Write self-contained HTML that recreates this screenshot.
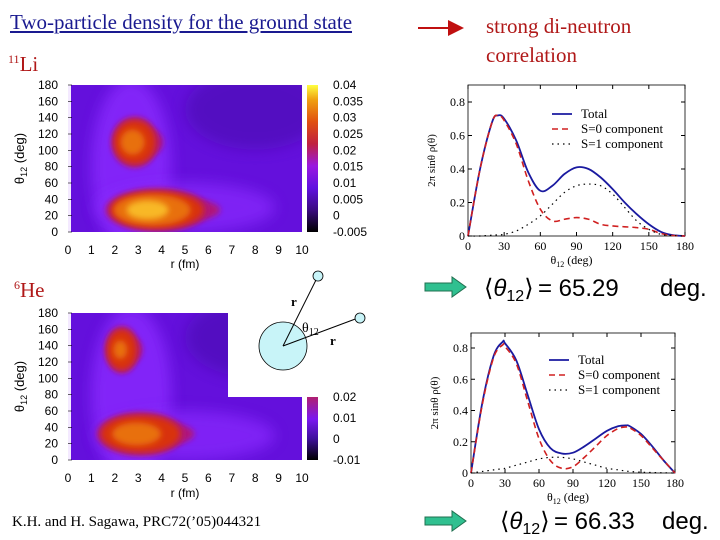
<!DOCTYPE html>
<html><head><meta charset="utf-8"><style>
body{margin:0;background:#fff;width:720px;height:540px;overflow:hidden;position:relative;font-family:"Liberation Serif",serif}
.t{position:absolute;white-space:nowrap}
</style></head><body>
<div class="t" style="left:10px;top:10px;font-size:21px;color:#1a1a90;text-decoration:underline">Two-particle density for the ground state</div>
<div class="t" style="left:486px;top:12px;font-size:21px;color:#b01818;line-height:29px">strong di-neutron<br>correlation</div>
<div class="t" style="left:8px;top:52px;font-size:21px;color:#b01818"><sup style="font-size:12px">11</sup>Li</div>
<div class="t" style="left:14px;top:278px;font-size:21px;color:#b01818"><sup style="font-size:12px">6</sup>He</div>
<div class="t" style="left:12px;top:514px;font-size:15px;color:#000">K.H. and H. Sagawa, PRC72(’05)044321</div>
<svg id="s" width="720" height="540" style="position:absolute;left:0;top:0" font-family="Liberation Sans, sans-serif">
<defs>
<filter id="b1" x="-50%" y="-50%" width="200%" height="200%"><feGaussianBlur stdDeviation="7"/></filter>
<filter id="b2" x="-50%" y="-50%" width="200%" height="200%"><feGaussianBlur stdDeviation="3"/></filter>
<linearGradient id="cb" x1="0" y1="1" x2="0" y2="0">
<stop offset="0" stop-color="#000"/><stop offset="0.15" stop-color="#3a0a80"/><stop offset="0.3" stop-color="#6010e0"/><stop offset="0.45" stop-color="#9a18e0"/><stop offset="0.6" stop-color="#c02040"/><stop offset="0.75" stop-color="#e05010"/><stop offset="0.9" stop-color="#f0a010"/><stop offset="1" stop-color="#ffff40"/></linearGradient>
<linearGradient id="cb2" x1="0" y1="1" x2="0" y2="0">
<stop offset="0" stop-color="#000"/><stop offset="0.35" stop-color="#4010a0"/><stop offset="0.65" stop-color="#7a18f0"/><stop offset="1" stop-color="#b02070"/></linearGradient>
<clipPath id="c1"><rect x="68" y="85" width="234" height="147"/></clipPath>
<clipPath id="c2"><path d="M68 313H228V397H302V460H68Z"/></clipPath>
<marker id="ar" markerWidth="8" markerHeight="8" refX="7" refY="4" orient="auto"><path d="M0 0L8 4L0 8Z" fill="#c01010"/></marker>
</defs>
<line x1="418" y1="28" x2="462" y2="28" stroke="#c01010" stroke-width="2" marker-end="url(#ar)"/>
<g id="hm"></g>
<g id="lc"></g>
<g>
<circle cx="283" cy="346" r="24" fill="#c8f4f8" stroke="#000" stroke-width="0.8"/>
<line x1="283" y1="346" x2="318" y2="276" stroke="#000"/><line x1="283" y1="346" x2="358" y2="318" stroke="#000"/>
<circle cx="318" cy="276" r="5" fill="#c8f4f8" stroke="#000" stroke-width="0.8"/><circle cx="360" cy="318" r="5" fill="#c8f4f8" stroke="#000" stroke-width="0.8"/>
<text x="291" y="306" font-family="Liberation Serif,serif" font-weight="bold" font-size="13">r</text>
<text x="330" y="345" font-family="Liberation Serif,serif" font-weight="bold" font-size="13">r</text>
<text x="302" y="332" font-family="Liberation Serif,serif" font-size="14">θ<tspan font-size="10" dy="3">12</tspan></text>
</g>
<g>
<path d="M425 283H452V277L466 287L452 297V291H425Z" fill="#30c090" stroke="#207050"/>
<text x="484" y="296" font-size="24">⟨<tspan font-style="italic">θ</tspan><tspan font-size="16" dy="5">12</tspan><tspan dy="-5">⟩</tspan></text>
<text x="538" y="296" font-size="24">= 65.29</text>
<text x="660" y="296" font-size="24">deg.</text></g>
<g>
<path d="M425 517H452V511L466 521L452 531V525H425Z" fill="#30c090" stroke="#207050"/>
<text x="500" y="529" font-size="24">⟨<tspan font-style="italic">θ</tspan><tspan font-size="16" dy="5">12</tspan><tspan dy="-5">⟩</tspan></text>
<text x="554" y="529" font-size="24">= 66.33</text>
<text x="662" y="529" font-size="24">deg.</text></g>
</svg>
<script>
const NS="http://www.w3.org/2000/svg";
function el(p,t,a){const e=document.createElementNS(NS,t);for(const k in a)e.setAttribute(k,a[k]);p.appendChild(e);return e;}
// ---- heatmap data (blob centers in r fm, theta deg, half-widths; peak level) ----
const liBlobs=[[2.85,110,0.9,27,0.028],[3.8,27,2.0,23,0.04]];
const heBlobs=[[2.3,135,0.65,25,0.022],[3.1,32,1.7,23,0.03]];
const liTicks=["0.04","0.035","0.03","0.025","0.02","0.015","0.01","0.005","0","-0.005"];
const heTicks=["0.02","0.01","0","-0.01"];
const rTicks=[0,1,2,3,4,5,6,7,8,9,10];
const thTicks=[0,20,40,60,80,100,120,140,160,180];
const hm=document.getElementById('hm');
function heat(top,bot,clip,blobs,cbTop,ticks,grad,name){
  const g=el(hm,'g',{});
  
  
  const X=r=>68+r*23.4, Y=t=>bot-t*(bot-top)/180;
  const cg=el(g,'g',{'clip-path':'url(#'+clip+')'});
  el(cg,'rect',{x:60,y:top-10,width:260,height:bot-top+20,fill:'#6410dc'});
  el(cg,'ellipse',{cx:X(2.7),cy:Y(80),rx:40,ry:(bot-top)*0.6,fill:'#8a2cff',filter:'url(#b1)',opacity:0.8});
  el(cg,'ellipse',{cx:X(5),cy:Y(30),rx:90,ry:25,fill:'#8a2cff',filter:'url(#b1)',opacity:0.7});
  el(cg,'ellipse',{cx:X(8),cy:Y(150),rx:70,ry:40,fill:'#4a10b0',filter:'url(#b1)',opacity:0.6});
  el(cg,'rect',{x:68,y:top,width:3,height:bot-top,fill:'#f4eaff'});
  blobs.forEach(b=>{
    const cx=X(b[0]),cy=Y(b[1]),rx=b[2]*23.4,ry=b[3]*(bot-top)/180,s=b[4]/0.04;
    el(cg,'ellipse',{cx:cx+rx*0.25,cy:cy,rx:rx*1.1,ry:ry*0.7,fill:'#b01878',filter:'url(#b2)'});
    el(cg,'ellipse',{cx:cx,cy:cy,rx:rx*1.1,ry:ry*1.15,fill:'#b01878',filter:'url(#b2)'});
    el(cg,'ellipse',{cx:cx,cy:cy,rx:rx,ry:ry,fill:'#d83010',filter:'url(#b2)'});
    el(cg,'ellipse',{cx:cx-rx*0.1,cy:cy,rx:rx*0.82*s,ry:ry*0.82*s,fill:'#e87010',filter:'url(#b2)'});
    if(s>0.9)el(cg,'ellipse',{cx:cx-rx*0.2,cy:cy,rx:rx*0.45,ry:ry*0.5,fill:'#f8b828',filter:'url(#b2)'});
  });
  thTicks.forEach(t=>{const y=Y(t);const tx=el(g,'text',{x:58,y:y+4,'text-anchor':'end','font-size':12});tx.textContent=t;
    el(g,'line',{x1:68,x2:72,y1:y,y2:y,stroke:'#000','stroke-width':0.6});});
  rTicks.forEach(r=>{const tx=el(g,'text',{x:X(r),y:254+(top>200?228:0),'text-anchor':'middle','font-size':12});tx.textContent=r;});
  const xl=el(g,'text',{x:185,y:268+(top>200?229:0),'text-anchor':'middle','font-size':12});xl.textContent='r  (fm)';
  const yl=el(g,'text',{transform:`translate(24,${(top+bot)/2}) rotate(-90)`,'text-anchor':'middle','font-size':13});yl.innerHTML='θ<tspan font-size="9" dy="3">12</tspan><tspan dy="-3">  (deg)</tspan>';
  el(g,'rect',{x:307,y:cbTop,width:11,height:bot-cbTop,fill:'url(#'+grad+')'});
  ticks.forEach((t,i)=>{const y=cbTop+i*(bot-cbTop)/(ticks.length-1);const tx=el(g,'text',{x:333,y:y+4,'font-size':12});tx.textContent=t;});
}
heat(85,232,'c1',liBlobs,85,liTicks,'cb','li11-heatmap');
heat(313,460,'c2',heBlobs,397,heTicks,'cb2','he6-heatmap');
// ---- line chart data ----
const ang=[0,10,20,25,30,40,50,60,70,80,90,100,110,120,130,140,150,160,170,180];
const liTotal=[0,0.40,0.68,0.72,0.70,0.57,0.38,0.27,0.30,0.37,0.41,0.40,0.35,0.28,0.20,0.13,0.07,0.025,0.005,0];
const liS0=[0,0.40,0.68,0.72,0.69,0.55,0.33,0.16,0.09,0.10,0.11,0.10,0.07,0.06,0.055,0.05,0.04,0.015,0.003,0];
const liS1=[0,0,0.005,0.007,0.01,0.03,0.07,0.12,0.19,0.26,0.30,0.31,0.30,0.25,0.17,0.09,0.04,0.01,0.002,0];
const ang2=[0,10,20,28,30,40,50,60,70,80,90,100,110,120,130,137,140,150,160,170,180];
const heTotal=[0,0.45,0.75,0.84,0.83,0.72,0.50,0.28,0.16,0.125,0.13,0.17,0.22,0.27,0.30,0.305,0.30,0.25,0.17,0.08,0];
const heS0=[0,0.44,0.74,0.82,0.81,0.70,0.46,0.22,0.08,0.03,0.04,0.10,0.17,0.24,0.285,0.295,0.29,0.24,0.16,0.08,0];
const heS1=[0,0.01,0.02,0.028,0.03,0.05,0.07,0.09,0.10,0.10,0.09,0.07,0.05,0.03,0.02,0.012,0.01,0.005,0.003,0.001,0];
const xTicks=[0,30,60,90,120,150,180];
const yTicks=[0,0.2,0.4,0.6,0.8];
const legendLabels=["Total","S=0 component","S=1 component"];
const lc=document.getElementById('lc');
function spline(pts){let d=`M${pts[0][0]} ${pts[0][1]}`;for(let i=0;i<pts.length-1;i++){const p0=pts[Math.max(0,i-1)],p1=pts[i],p2=pts[i+1],p3=pts[Math.min(pts.length-1,i+2)];
 d+=` C${p1[0]+(p2[0]-p0[0])/6} ${p1[1]+(p2[1]-p0[1])/6} ${p2[0]-(p3[0]-p1[0])/6} ${p2[1]-(p3[1]-p1[1])/6} ${p2[0]} ${p2[1]}`;}return d;}
function chart(name,x0,x1,y0,y08,topY,xs,series,ly){
  const g=el(lc,'g',{'font-family':'Liberation Serif,serif'});
  
  
  const X=a=>x0+a*(x1-x0)/180, Y=v=>y0-v*(y0-y08)/0.8;
  el(g,'rect',{x:x0,y:topY,width:x1-x0,height:y0-topY,fill:'none',stroke:'#000','stroke-width':0.8});
  xTicks.forEach(t=>{el(g,'line',{x1:X(t),x2:X(t),y1:y0,y2:y0-4,stroke:'#000'});el(g,'line',{x1:X(t),x2:X(t),y1:topY,y2:topY+4,stroke:'#000'});
    const tx=el(g,'text',{x:X(t),y:y0+14,'text-anchor':'middle','font-size':12});tx.textContent=t;});
  yTicks.forEach(t=>{el(g,'line',{x1:x0,x2:x0+4,y1:Y(t),y2:Y(t),stroke:'#000'});el(g,'line',{x1:x1,x2:x1-4,y1:Y(t),y2:Y(t),stroke:'#000'});
    const tx=el(g,'text',{x:x0-3,y:Y(t)+4,'text-anchor':'end','font-size':12});tx.textContent=t===0?'0':t.toFixed(1);});
  const xl=el(g,'text',{x:(x0+x1)/2-5,y:y0+28,'text-anchor':'middle','font-size':12});xl.innerHTML='θ<tspan font-size="8" dy="3">12</tspan><tspan dy="-3">   (deg)</tspan>';
  const yl=el(g,'text',{transform:`translate(${x0-33},${(topY+y0)/2}) rotate(-90)`,'text-anchor':'middle','font-size':11});yl.textContent='2π sinθ  ρ(θ)';
  const sty=[{stroke:'#1a1aa0','stroke-width':1.8},{stroke:'#d02020','stroke-width':1.6,'stroke-dasharray':'6 4'},{stroke:'#000','stroke-width':1.2,'stroke-dasharray':'1.5 4'}];
  const nm=['total-line','s0-line','s1-line'];
  series.forEach((s,i)=>{const p=el(g,'path',Object.assign({d:spline(s.map((v,j)=>[X(xs[j]),Y(v)])),fill:'none'},sty[i]));
    
    
    const lx=ly[0];el(g,'line',Object.assign({x1:lx,x2:lx+20,y1:ly[1]+i*15,y2:ly[1]+i*15},sty[i]));
    const tx=el(g,'text',{x:lx+29,y:ly[1]+i*15+4,'font-size':13});tx.textContent=legendLabels[i];});
}
chart('li11-angular-chart',468,685,236,102,85,ang,[liTotal,liS0,liS1],[552,114]);
chart('he6-angular-chart',471,675,473,348,333,ang2,[heTotal,heS0,heS1],[549,360]);
</script>
</body></html>
